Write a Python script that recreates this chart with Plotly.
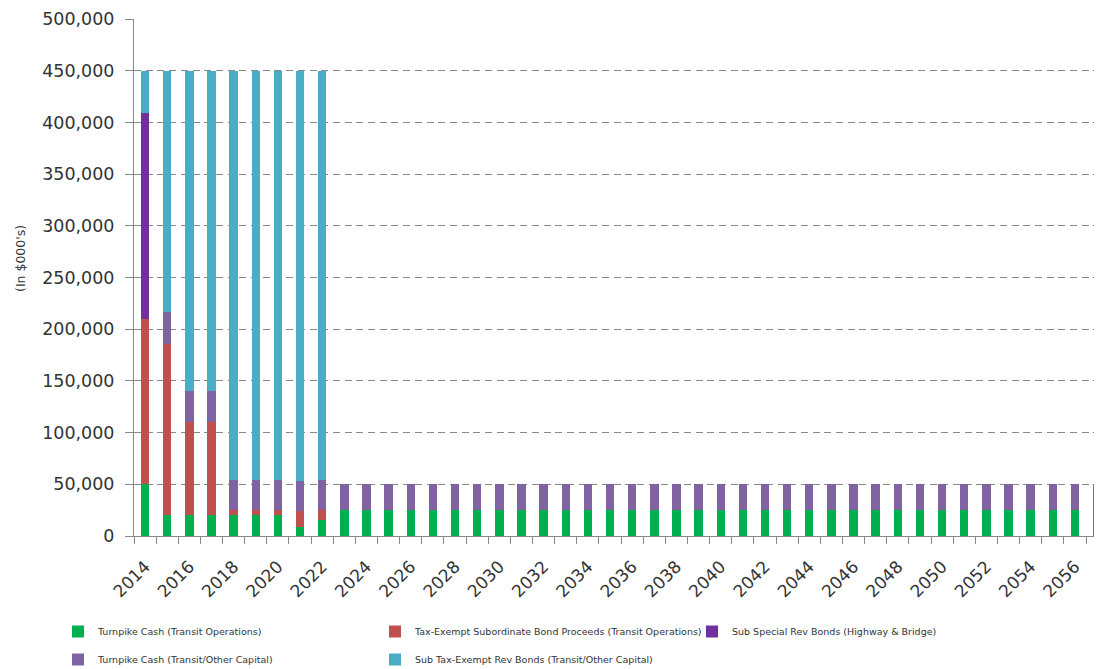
import plotly.graph_objects as go

years = list(range(2014, 2058))

turnpike_ops = [50000, 20000, 20000, 20000, 20000, 20000, 20000, 8500, 15000] + [25000] * 35
tax_exempt_sub = [160000, 166000, 90000, 90000, 5000, 5000, 5000, 16000, 10000] + [0] * 35
sub_special = [199000, 0, 0, 0, 0, 0, 0, 0, 0] + [0] * 35
turnpike_cap = [0, 31000, 30000, 30000, 29000, 29000, 29000, 29000, 29000] + [25000] * 35
sub_tax_exempt = [41000, 233000, 310000, 310000, 396000, 396000, 396000, 396500, 396000] + [0] * 35

series = [
    ("Turnpike Cash (Transit Operations)", turnpike_ops, "#00B050", "legend"),
    ("Tax-Exempt Subordinate Bond Proceeds (Transit Operations)", tax_exempt_sub, "#C0504D", "legend"),
    ("Sub Special Rev Bonds (Highway & Bridge)", sub_special, "#7030A0", "legend"),
    ("Turnpike Cash (Transit/Other Capital)", turnpike_cap, "#8064A2", "legend2"),
    ("Sub Tax-Exempt Rev Bonds (Transit/Other Capital)", sub_tax_exempt, "#4BACC6", "legend2"),
]

label_years = list(range(2014, 2058, 2))
y_ticks = list(range(0, 500001, 50000))

FONT = "DejaVu Sans"
GRAY = "#898989"
TXT = "#333333"

fig = go.Figure()
for name, vals, color, lg in series:
    fig.add_trace(go.Bar(
        x=years, y=vals, name=name, marker=dict(color=color, line=dict(width=0)),
        legend=lg, legendwidth=272,
    ))

# the page body has an 8px margin; keep the figure inside the window width
OFF = 8
W, H = 1102 - 2 * OFF, 669 - OFF
PL, PR, PT = 134 - OFF, 0, 19 - OFF
PB = H - (536 - OFF)
plot_w = W - PL - PR
plot_h = H - PT - PB

def px_x(px):
    return (px - OFF - PL) / plot_w

def px_y(py):
    return (H - PB - (py - OFF)) / plot_h

legend_common = dict(orientation="h", xanchor="left", yanchor="top",
                     font=dict(size=9.5, family=FONT, color=TXT), traceorder="normal",
                     bgcolor="rgba(0,0,0,0)", itemclick=False)

x_end = 2013.5 + plot_w / 22.14

fig.update_layout(
    width=W, height=H,
    margin=dict(l=PL, r=PR, t=PT, b=PB, autoexpand=False),
    barmode="stack", bargap=0.62,
    plot_bgcolor="white", paper_bgcolor="white",
    font=dict(family=FONT, color=TXT),
    legend=dict(x=px_x(58), y=px_y(617), **legend_common),
    legend2=dict(x=px_x(58), y=px_y(645), **legend_common),
    xaxis=dict(
        range=[2013.5, x_end], tickmode="array", tickvals=label_years,
        ticktext=[str(y) for y in label_years], tickangle=-45,
        tickfont=dict(size=17, family=FONT, color=TXT),
        ticks="", showgrid=False, showline=True, linecolor=GRAY, linewidth=1,
        minor=dict(ticks="outside", tickmode="array",
                   tickvals=[y - 0.5 for y in years], ticklen=7, tickcolor=GRAY, showgrid=False),
        zeroline=False, automargin=False, ticklabelstandoff=13,
    ),
    yaxis=dict(
        range=[0, 500000], tickmode="array", tickvals=y_ticks,
        ticktext=[f"{v:,}" for v in y_ticks],
        tickfont=dict(size=17.5, family=FONT, color=TXT),
        ticks="outside", ticklen=8, tickcolor=GRAY,
        showline=True, linecolor=GRAY, linewidth=1,
        showgrid=True, gridcolor=GRAY, gridwidth=1.2, griddash="7px,4.7px",
        zeroline=False, automargin=False, ticklabelstandoff=7,
    ),
    annotations=[dict(
        text="(In $000's)", textangle=-90, x=px_x(20), y=px_y(259),
        xref="paper", yref="paper", xanchor="center", yanchor="middle", showarrow=False,
        font=dict(size=12.5, family=FONT, color=TXT),
    )],
)

fig.write_html("out.html")
